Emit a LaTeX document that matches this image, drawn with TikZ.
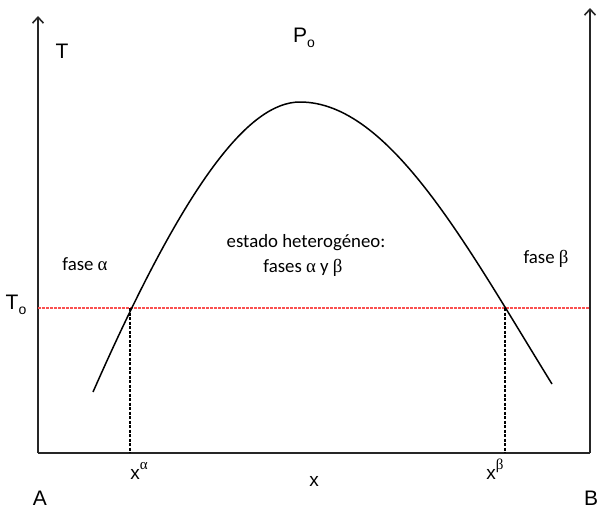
\documentclass[tikz,border=0pt]{standalone}
\usepackage{fontspec}
\setmainfont{Carlito}
\newfontfamily\arialf{Liberation Sans}
\newfontfamily\grk{Liberation Serif}
\usetikzlibrary{arrows.meta}
\definecolor{redd}{RGB}{250,80,80}
\begin{document}
\begin{tikzpicture}[x=1pt,y=-1pt,
  axis/.style={line width=2pt,draw=black!85},
  axarrow/.style={axis,-{Straight Barb[length=6pt,width=11pt,line width=1.6pt]}},
  curve/.style={line width=1.5pt},
  guide/.style={line width=1.1pt,dash pattern=on 3pt off 1.5pt},
  iso/.style={line width=1.1pt,draw=redd,dash pattern=on 2.5pt off 1.5pt},
  lab/.style={font=\arialf\fontsize{21}{23}\selectfont,inner sep=0pt},
  txt/.style={font=\fontsize{18.8}{21}\selectfont,inner sep=0pt,align=center}]
\useasboundingbox (0,0) rectangle (597,509);
\coordinate (O) at (38,453);
\coordinate (Ltop) at (38,16);
\coordinate (Rbot) at (590,453);
\coordinate (Rtop) at (590,8);
\coordinate (Tl) at (38,308);
\coordinate (Tr) at (590,308);
\coordinate (Xa) at (130,308);
\coordinate (Xab) at (130,453);
\coordinate (Xb) at (505,308);
\coordinate (Xbb) at (505,453);
\coordinate (C0) at (93,392);
\coordinate (Cp) at (300,102);
\coordinate (C1) at (552,384);
% axes
\draw[axarrow] (O) -- (Ltop);
\draw[axarrow] (Rbot) -- (Rtop);
\draw[axis] (O) -- (Rbot);
% isotherm
\draw[iso] (Tl) -- (Tr);
% guides
\draw[guide] (Xa) -- (Xab);
\draw[guide] (Xb) -- (Xbb);
% curve
\draw[curve] (C0) .. controls (185.5,182) and (249,102) .. (Cp)
  .. controls (390,102) and (467.4,247.2) .. (C1);
% labels
\node[lab] (T) at (62,51) {T};
\node[lab] (P) at (304,38) {P\raisebox{-0.4ex}{\fontsize{14}{15}\selectfont o}};
\node[lab] (To) at (16,305) {T\raisebox{-0.4ex}{\fontsize{14}{15}\selectfont o}};
\node[lab,anchor=base,font=\arialf\fontsize{19}{21}\selectfont] (xa) at (139,479) {x\raisebox{0.9ex}{\grk\fontsize{15}{16}\selectfont α}};
\node[lab,anchor=base,font=\arialf\fontsize{19}{21}\selectfont] (x) at (314,486) {x};
\node[lab,anchor=base,font=\arialf\fontsize{19}{21}\selectfont] (xb) at (495,479) {x\raisebox{0.9ex}{\grk\fontsize{15}{16}\selectfont β}};
\node[lab,anchor=base] (A) at (40,505) {A};
\node[lab,anchor=base] (B) at (591,505) {B};
\node[txt,anchor=base] (fa) at (85,270) {fase {\grk α}};
\node[txt,anchor=base] (fb) at (546,263) {fase {\grk β}};
\node[txt,anchor=base] (h1) at (306,247) {estado heterogéneo:};
\node[txt,anchor=base] (h2) at (303,272) {fases {\grk α} y {\grk β}};
\end{tikzpicture}
\end{document}
